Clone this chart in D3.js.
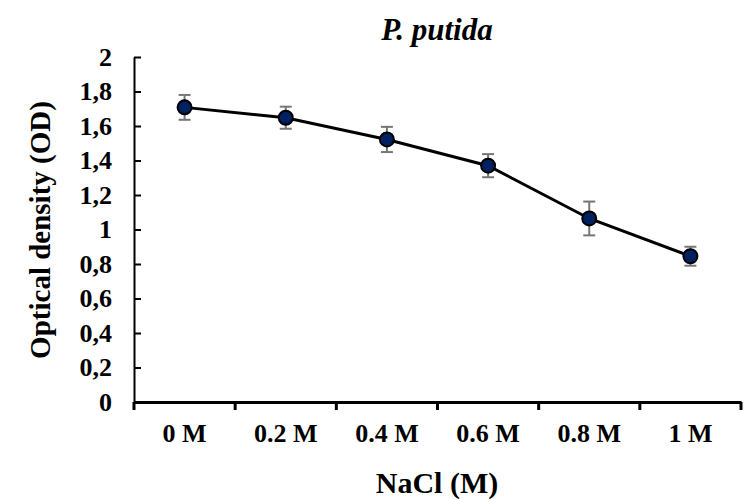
<!DOCTYPE html>
<html><head><meta charset="utf-8">
<script src="https://cdn.jsdelivr.net/npm/d3@7"></script>
<style>body{margin:0;background:#fff}svg{display:block}</style>
</head><body>
<svg id="c" width="751" height="501"></svg>
<script>
const categories = ["0 M","0.2 M","0.4 M","0.6 M","0.8 M","1 M"];
const values = [1.708, 1.648, 1.522, 1.370, 1.064, 0.845];
const errors = [0.072, 0.064, 0.073, 0.067, 0.098, 0.055];
const yTicks = [0,0.2,0.4,0.6,0.8,1,1.2,1.4,1.6,1.8,2];
const yTickLabels = ["0","0,2","0,4","0,6","0,8","1","1,2","1,4","1,6","1,8","2"];

const svg = d3.select("#c");
const L = 134, R = 741, T = 57, B = 402;
const font = "'Liberation Serif','Times New Roman',serif";

const x = d3.scaleBand().domain(categories).range([L, R]).padding(0);
const y = d3.scaleLinear().domain([0, 2]).range([B, T]);

// Y axis
const yAxis = svg.append("g").attr("transform", `translate(${L},0)`)
  .call(d3.axisLeft(y).tickValues(yTicks).tickSizeInner(-7).tickSizeOuter(0).tickFormat((d,i)=>yTickLabels[i]));
yAxis.attr("font-family",font).attr("font-size",26);
yAxis.select(".domain").attr("stroke","#000").attr("stroke-width",2);
yAxis.selectAll(".tick line").attr("stroke","#000").attr("stroke-width",2);
yAxis.selectAll(".tick text").attr("x",-22).attr("font-weight","bold").attr("fill","#000");

// X axis
const xAxis = svg.append("g").attr("transform", `translate(0,${B})`)
  .call(d3.axisBottom(x).tickSize(0).tickSizeOuter(0));
xAxis.attr("font-family",font).attr("font-size",26);
xAxis.select(".domain").attr("stroke","#000").attr("stroke-width",3);
xAxis.selectAll(".tick text").attr("y",22).attr("font-weight","bold").attr("fill","#000");
// boundary tick marks
const bounds = categories.map(c => x(c)).concat([x(categories[categories.length-1]) + x.bandwidth()]);
svg.append("g").selectAll("line").data(bounds).join("line")
  .attr("x1", d=>d).attr("x2", d=>d).attr("y1", B).attr("y2", B+8)
  .attr("stroke","#000").attr("stroke-width",3);

const cx = c => x(c) + x.bandwidth()/2;

// line
svg.append("path").datum(values)
  .attr("d", d3.line().x((d,i)=>cx(categories[i])).y(d=>y(d)))
  .attr("fill","none").attr("stroke","#000").attr("stroke-width",3);

// error bars
const eb = svg.append("g").attr("stroke","#767676").attr("stroke-width",2);
values.forEach((v,i)=>{
  const px = cx(categories[i]);
  eb.append("line").attr("x1",px).attr("x2",px).attr("y1",y(v+errors[i])).attr("y2",y(v-errors[i]));
  eb.append("line").attr("x1",px-6).attr("x2",px+6).attr("y1",y(v+errors[i])).attr("y2",y(v+errors[i]));
  eb.append("line").attr("x1",px-6).attr("x2",px+6).attr("y1",y(v-errors[i])).attr("y2",y(v-errors[i]));
});

// markers
svg.append("g").selectAll("circle").data(values).join("circle")
  .attr("cx",(d,i)=>cx(categories[i])).attr("cy",d=>y(d)).attr("r",7)
  .attr("fill","#002060").attr("stroke","#000").attr("stroke-width",2);

// title
svg.append("text").attr("x",437).attr("y",40).attr("text-anchor","middle")
  .attr("font-family",font).attr("font-weight","bold").attr("font-style","italic").attr("font-size",31).text("P. putida");
// x title
svg.append("text").attr("x",437).attr("y",493).attr("text-anchor","middle")
  .attr("font-family",font).attr("font-weight","bold").attr("font-size",30).text("NaCl (M)");
// y title
svg.append("text").attr("transform","translate(50,230) rotate(-90)").attr("text-anchor","middle")
  .attr("font-family",font).attr("font-weight","bold").attr("font-size",29).text("Optical density (OD)");
</script>
</body></html>
